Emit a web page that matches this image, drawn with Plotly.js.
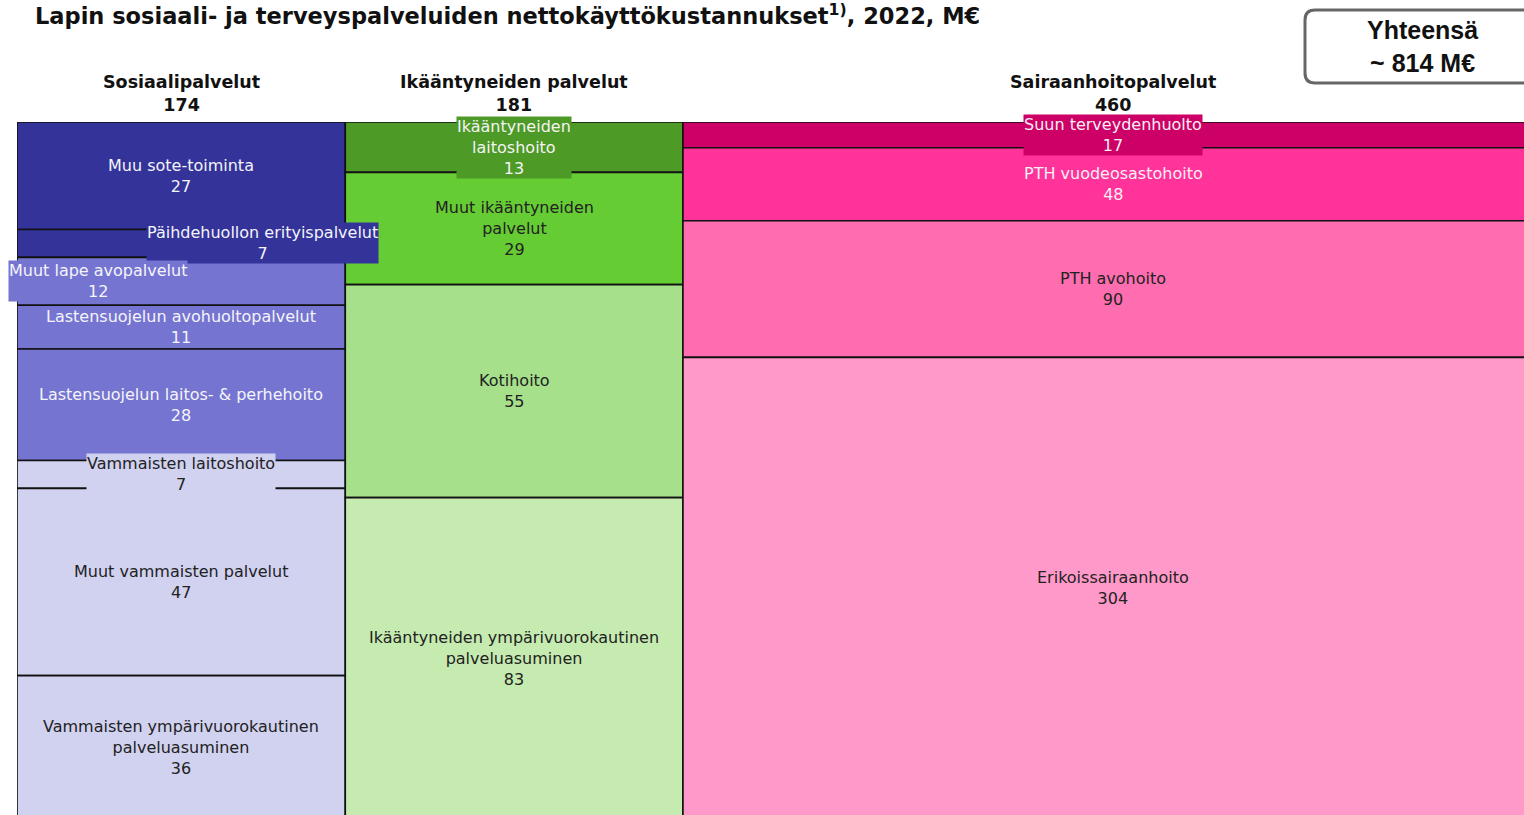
<!DOCTYPE html>
<html>
<head>
<meta charset="utf-8">
<script src="https://cdn.plot.ly/plotly-3.0.1.min.js"></script>
<style>
html,body{margin:0;padding:0;overflow:hidden;background:#fff;}
#chart{width:1560px;height:830px;}
</style>
</head>
<body>
<div id="chart"></div>
<script>
// ---- data ----
const groupNames = ['Sosiaalipalvelut', 'Ikääntyneiden palvelut', 'Sairaanhoitopalvelut'];
const groupTotals = [174, 181, 460];
const grandTotalLabel = 'Yhteensä<br>~ 814 M€';

const sosLabels = ['Muu sote-toiminta', 'Päihdehuollon erityispalvelut', 'Muut lape avopalvelut',
  'Lastensuojelun avohuoltopalvelut', 'Lastensuojelun laitos- & perhehoito', 'Vammaisten laitoshoito',
  'Muut vammaisten palvelut', 'Vammaisten ympärivuorokautinen<br>palveluasuminen'];
const sosValues = [27, 7, 12, 11, 28, 7, 47, 36];

const ikaLabels = ['Ikääntyneiden<br>laitoshoito', 'Muut ikääntyneiden<br>palvelut', 'Kotihoito',
  'Ikääntyneiden ympärivuorokautinen<br>palveluasuminen'];
const ikaValues = [13, 29, 55, 83];

const saiLabels = ['Suun terveydenhuolto', 'PTH vuodeosastohoito', 'PTH avohoito', 'Erikoissairaanhoito'];
const saiValues = [17, 48, 90, 304];

// ---- styles ----
const sosColors = ['#333399', '#333399', '#7575d1', '#7575d1', '#7575d1', '#d1d1f0', '#d1d1f0', '#d1d1f0'];
const ikaColors = ['#4d9a26', '#66cc33', '#a6e08a', '#c5ebb0'];
const saiColors = ['#cc0066', '#ff3399', '#ff6db1', '#ff99c9'];
const sosText = ['#f4f4fa', '#f4f4fa', '#f4f4fa', '#f4f4fa', '#f4f4fa', '#222222', '#222222', '#222222'];
const ikaText = ['#f4f4f4', '#222222', '#222222', '#222222'];
const saiText = ['#f8f0f4', '#f8f0f4', '#222222', '#222222'];
// labels that carry their own background box and horizontal shift (px)
const boxed = {
  'Päihdehuollon erityispalvelut': 81,
  'Muut lape avopalvelut': -83,
  'Vammaisten laitoshoito': 0,
  'Ikääntyneiden<br>laitoshoito': 0,
  'Suun terveydenhuolto': 0
};

const groups = [
  {labels: sosLabels, values: sosValues, colors: sosColors, text: sosText},
  {labels: ikaLabels, values: ikaValues, colors: ikaColors, text: ikaText},
  {labels: saiLabels, values: saiValues, colors: saiColors, text: saiText}
];

const FONT = '"DejaVu Sans", Inter, sans-serif';
const W = 1560, H = 830, ML = 17, MR = 16, MT = 122, MB = 11;
const PW = W - ML - MR, PH = H - MT - MB;
const px = x => (x - ML) / PW;
const py = y => (H - MB - y) / PH;

const traces = [];
const annotations = [];
let start = 0;
let grand = 0;
groups.forEach((g, gi) => {
  const sum = g.values.reduce((a, b) => a + b, 0);
  const center = start + sum / 2;
  const shares = g.values.map(v => v / sum * 100);
  const bases = [];
  let acc = 0;
  shares.forEach(s => { bases.push(acc); acc += s; });
  traces.push({
    type: 'bar',
    x: g.values.map(() => center),
    y: shares,
    base: bases,
    width: g.values.map(() => sum),
    marker: {color: g.colors, line: {color: '#111111', width: 1.6}},
    hoverinfo: 'skip',
    showlegend: false
  });
  g.labels.forEach((lab, i) => {
    const isBoxed = Object.prototype.hasOwnProperty.call(boxed, lab);
    annotations.push({
      x: center, y: bases[i] + shares[i] / 2, xref: 'x', yref: 'y',
      text: lab + '<br>' + g.values[i],
      showarrow: false,
      xshift: isBoxed ? boxed[lab] : 0,
      font: {family: FONT, size: 16, color: g.text[i]},
      bgcolor: isBoxed ? g.colors[i] : 'rgba(0,0,0,0)',
      borderpad: 0,
      align: 'center', xanchor: 'center', yanchor: 'middle'
    });
  });
  annotations.push({
    x: center, y: py(93), xref: 'x', yref: 'paper',
    text: '<b>' + groupNames[gi] + '<br>' + groupTotals[gi] + '</b>',
    showarrow: false,
    font: {family: FONT, size: 17.5, color: '#111111'},
    align: 'center', xanchor: 'center', yanchor: 'middle'
  });
  start += sum;
});
grand = start;

// title
annotations.push({
  x: px(33), y: py(15), xref: 'paper', yref: 'paper',
  text: '<b>Lapin sosiaali- ja terveyspalveluiden nettokäyttökustannukset<sup>1)</sup>, 2022, M€</b>',
  showarrow: false, xanchor: 'left', yanchor: 'middle',
  font: {family: FONT, size: 22.5, color: '#111111'}
});
// total box text
annotations.push({
  x: px(1422), y: py(47), xref: 'paper', yref: 'paper',
  text: '<b>' + grandTotalLabel + '</b>',
  showarrow: false, xanchor: 'center', yanchor: 'middle',
  font: {family: '"Liberation Sans", Arial, sans-serif', size: 25, color: '#111111'}
});

// rounded box path
function roundedRect(x0, y0, x1, y1, r) {
  const X = px, Y = py;
  return 'M' + X(x0 + r) + ',' + Y(y0) +
    ' L' + X(x1 - r) + ',' + Y(y0) +
    ' Q' + X(x1) + ',' + Y(y0) + ' ' + X(x1) + ',' + Y(y0 + r) +
    ' L' + X(x1) + ',' + Y(y1 - r) +
    ' Q' + X(x1) + ',' + Y(y1) + ' ' + X(x1 - r) + ',' + Y(y1) +
    ' L' + X(x0 + r) + ',' + Y(y1) +
    ' Q' + X(x0) + ',' + Y(y1) + ' ' + X(x0) + ',' + Y(y1 - r) +
    ' L' + X(x0) + ',' + Y(y0 + r) +
    ' Q' + X(x0) + ',' + Y(y0) + ' ' + X(x0 + r) + ',' + Y(y0) + ' Z';
}

const layout = {
  width: W, height: H,
  margin: {l: ML, r: MR, t: MT, b: MB, pad: 0},
  paper_bgcolor: '#ffffff', plot_bgcolor: '#ffffff',
  barmode: 'overlay',
  xaxis: {range: [0, grand], visible: false, fixedrange: true},
  yaxis: {range: [100, 0], visible: false, fixedrange: true},
  annotations: annotations,
  shapes: [{
    type: 'path', xref: 'paper', yref: 'paper',
    path: roundedRect(1305, 10, 1541, 83, 10),
    line: {color: '#666666', width: 3}, fillcolor: 'rgba(0,0,0,0)'
  }],
  showlegend: false
};

Plotly.newPlot('chart', traces, layout, {displayModeBar: false, staticPlot: true});
</script>
</body>
</html>
